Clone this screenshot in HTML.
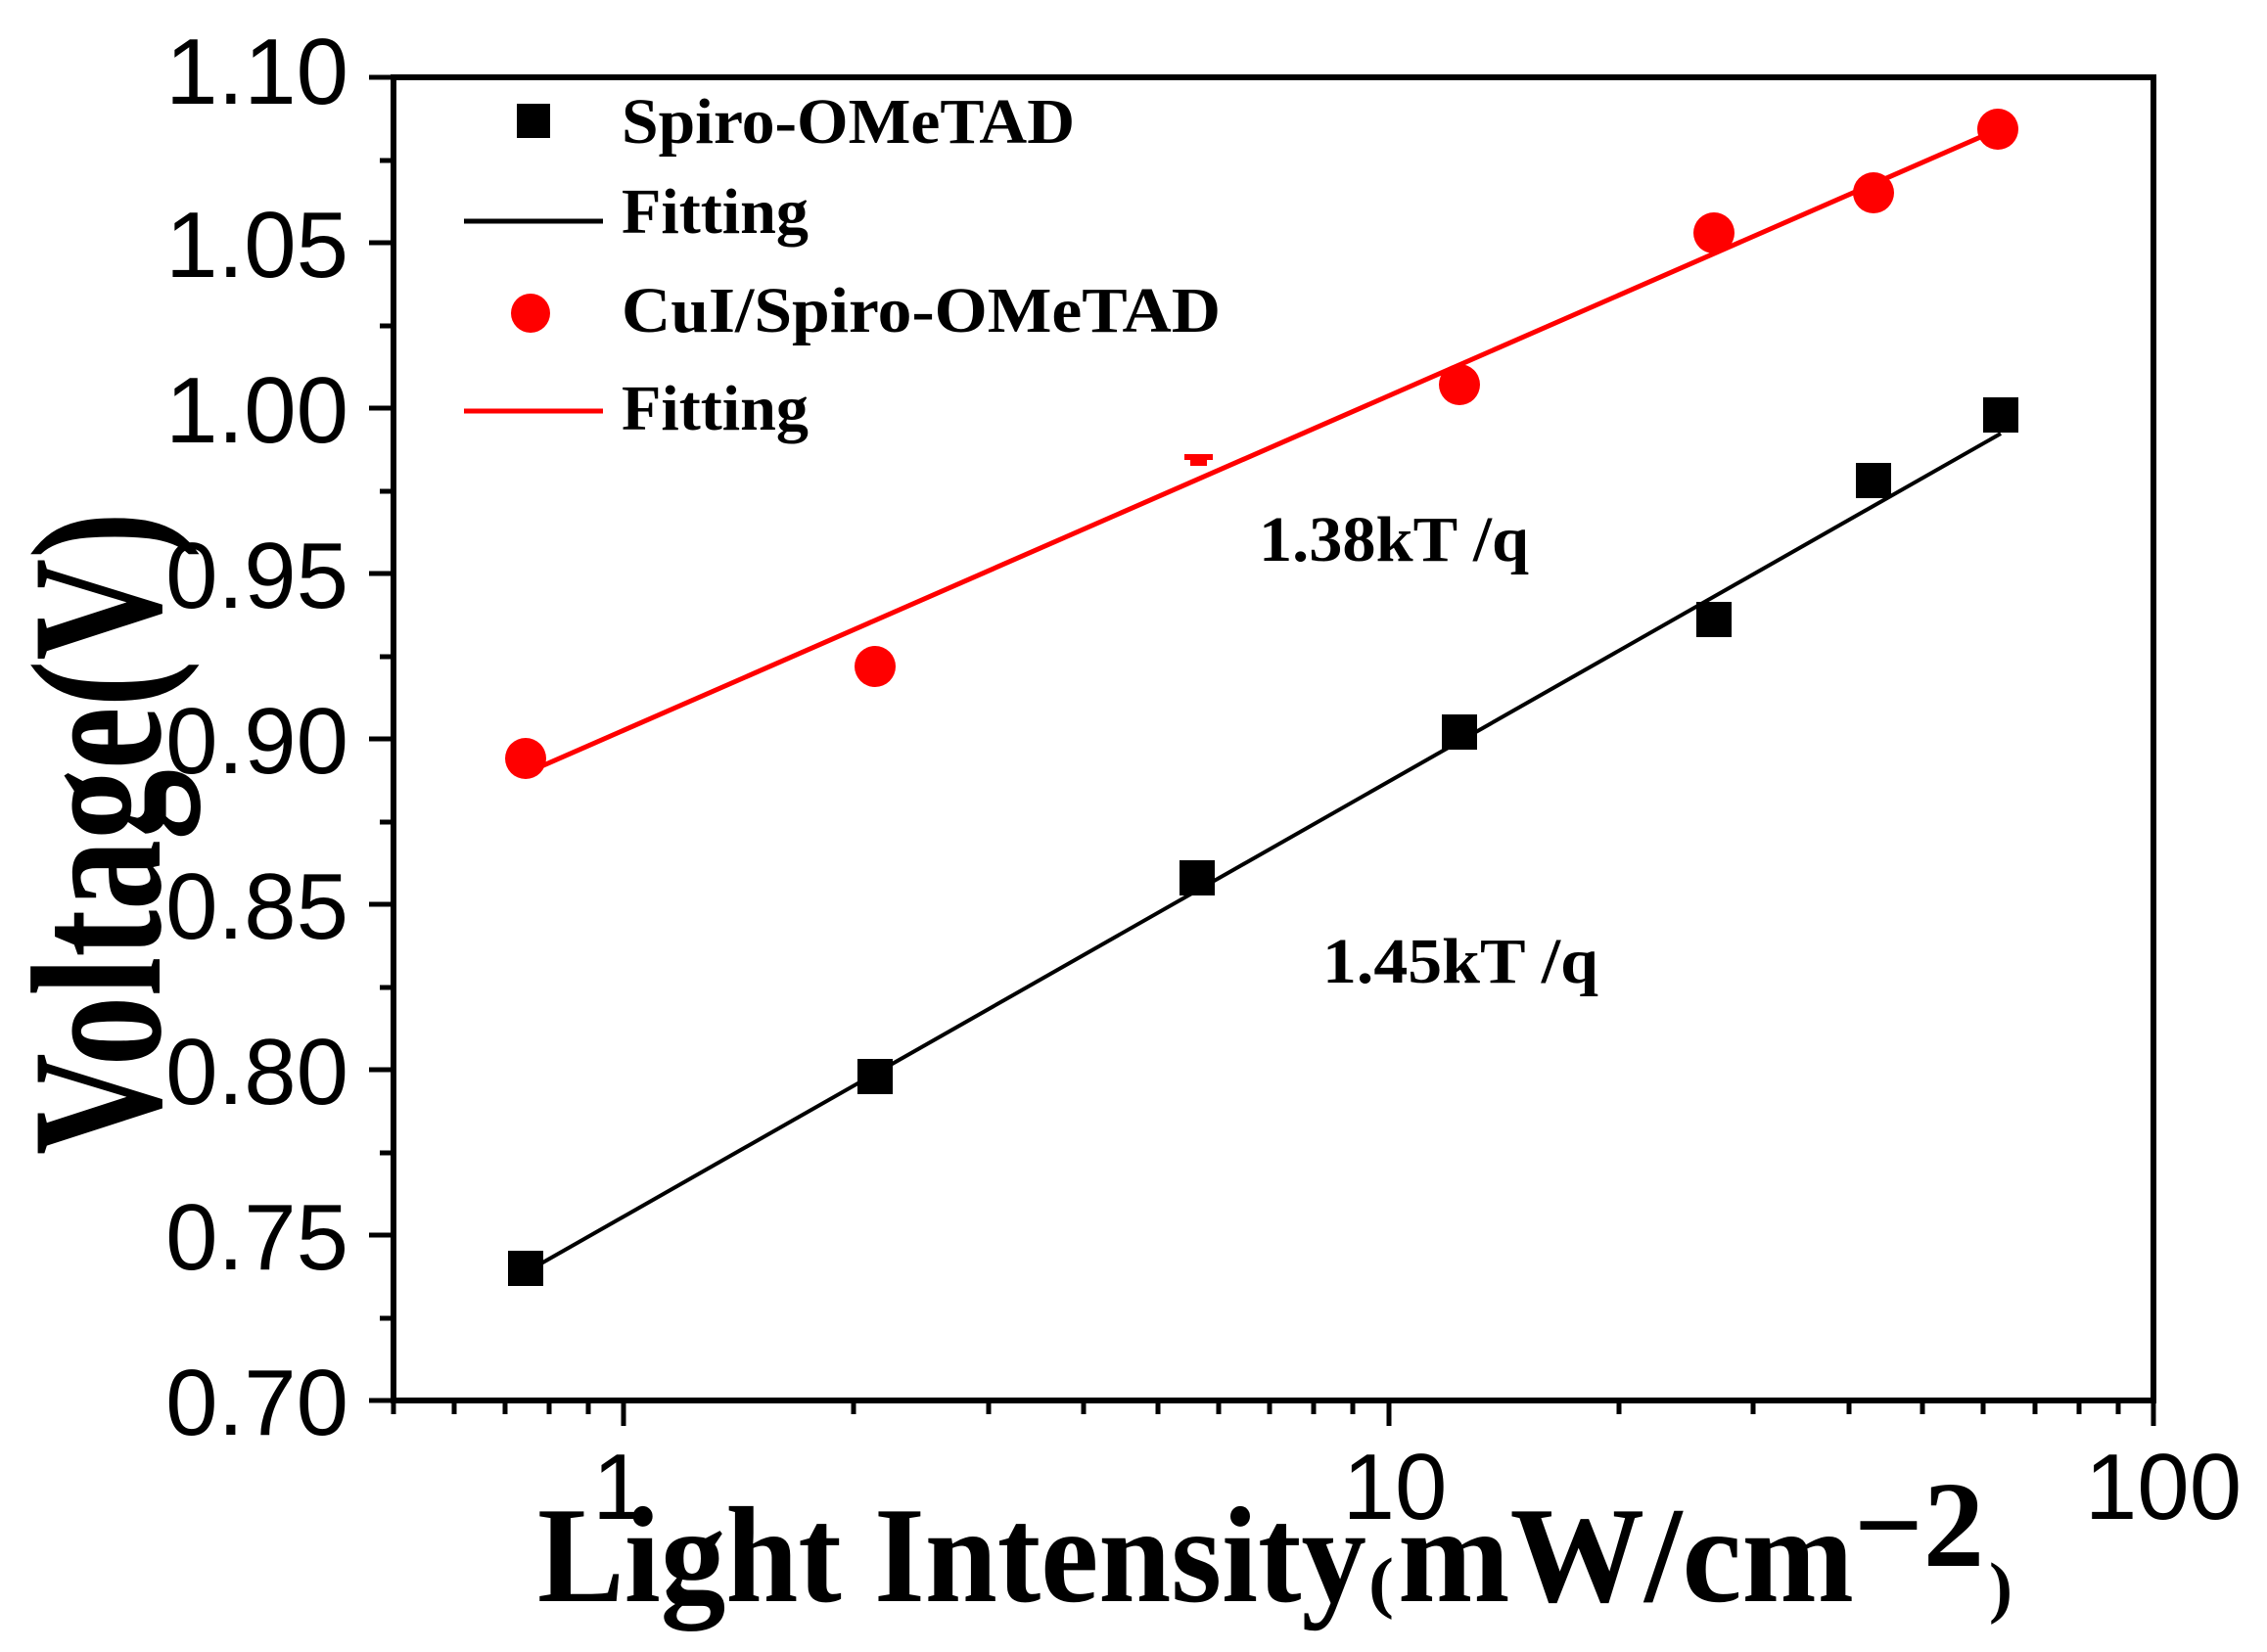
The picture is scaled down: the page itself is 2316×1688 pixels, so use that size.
<!DOCTYPE html>
<html><head><meta charset="utf-8"><style>
html,body{margin:0;padding:0;background:#fff;}
svg{display:block;}
</style></head><body>
<svg width="2316" height="1688" viewBox="0 0 2316 1688" xmlns="http://www.w3.org/2000/svg">
<rect width="2316" height="1688" fill="#fff"/>
<!-- axes frame -->
<g stroke="#000" stroke-width="6" fill="none">
<rect x="402" y="79" width="1798" height="1352"/>
</g>
<!-- y ticks -->
<g stroke="#000" stroke-width="5">
<line x1="377" y1="79" x2="402" y2="79"/>
<line x1="388" y1="164" x2="402" y2="164"/>
<line x1="377" y1="248" x2="402" y2="248"/>
<line x1="388" y1="333" x2="402" y2="333"/>
<line x1="377" y1="417" x2="402" y2="417"/>
<line x1="388" y1="502" x2="402" y2="502"/>
<line x1="377" y1="586" x2="402" y2="586"/>
<line x1="388" y1="671" x2="402" y2="671"/>
<line x1="377" y1="755" x2="402" y2="755"/>
<line x1="388" y1="840" x2="402" y2="840"/>
<line x1="377" y1="924" x2="402" y2="924"/>
<line x1="388" y1="1009" x2="402" y2="1009"/>
<line x1="377" y1="1093" x2="402" y2="1093"/>
<line x1="388" y1="1178" x2="402" y2="1178"/>
<line x1="377" y1="1262" x2="402" y2="1262"/>
<line x1="388" y1="1347" x2="402" y2="1347"/>
<line x1="377" y1="1431" x2="402" y2="1431"/>
</g>
<!-- x ticks -->
<g stroke="#000" stroke-width="5">
<line x1="402" y1="1431" x2="402" y2="1445"/>
<line x1="464" y1="1431" x2="464" y2="1445"/>
<line x1="516" y1="1431" x2="516" y2="1445"/>
<line x1="561" y1="1431" x2="561" y2="1445"/>
<line x1="601" y1="1431" x2="601" y2="1445"/>
<line x1="637" y1="1431" x2="637" y2="1457"/>
<line x1="872" y1="1431" x2="872" y2="1445"/>
<line x1="1010" y1="1431" x2="1010" y2="1445"/>
<line x1="1107" y1="1431" x2="1107" y2="1445"/>
<line x1="1183" y1="1431" x2="1183" y2="1445"/>
<line x1="1245" y1="1431" x2="1245" y2="1445"/>
<line x1="1297" y1="1431" x2="1297" y2="1445"/>
<line x1="1342" y1="1431" x2="1342" y2="1445"/>
<line x1="1382" y1="1431" x2="1382" y2="1445"/>
<line x1="1419" y1="1431" x2="1419" y2="1457"/>
<line x1="1654" y1="1431" x2="1654" y2="1445"/>
<line x1="1791" y1="1431" x2="1791" y2="1445"/>
<line x1="1889" y1="1431" x2="1889" y2="1445"/>
<line x1="1964" y1="1431" x2="1964" y2="1445"/>
<line x1="2026" y1="1431" x2="2026" y2="1445"/>
<line x1="2079" y1="1431" x2="2079" y2="1445"/>
<line x1="2124" y1="1431" x2="2124" y2="1445"/>
<line x1="2164" y1="1431" x2="2164" y2="1445"/>
<line x1="2200" y1="1431" x2="2200" y2="1457"/>
</g>
<!-- y tick labels -->
<g font-family="Liberation Sans, sans-serif" font-size="96" text-anchor="end" fill="#000">
<text x="356" y="106">1.10</text>
<text x="356" y="283">1.05</text>
<text x="356" y="452">1.00</text>
<text x="356" y="621">0.95</text>
<text x="356" y="790">0.90</text>
<text x="356" y="959">0.85</text>
<text x="356" y="1128">0.80</text>
<text x="356" y="1297">0.75</text>
<text x="356" y="1466">0.70</text>
</g>
<!-- x tick labels -->
<g font-family="Liberation Sans, sans-serif" font-size="96" text-anchor="middle" fill="#000">
<text x="632" y="1552">1</text>
<text x="1425" y="1552">10</text>
<text x="2210" y="1552">100</text>
</g>
<!-- axis titles -->
<g font-family="Liberation Serif, serif" font-weight="bold" fill="#000">
<text x="549" y="1636" font-size="140" textLength="847" lengthAdjust="spacingAndGlyphs">Light Intensity</text>
<text x="1398" y="1640" font-size="70" textLength="26" lengthAdjust="spacingAndGlyphs">(</text>
<text x="1428" y="1636" font-size="140" textLength="466" lengthAdjust="spacingAndGlyphs">mW/cm</text>
<text x="1894" y="1600" font-size="125" textLength="133" lengthAdjust="spacingAndGlyphs">−2</text>
<text x="2032" y="1645" font-size="70" textLength="24" lengthAdjust="spacingAndGlyphs">)</text>
<text transform="translate(163,1180) rotate(-90)" font-size="190" textLength="657" lengthAdjust="spacingAndGlyphs">Voltage(V)</text>
</g>
<!-- fit lines -->
<line x1="537" y1="1300" x2="2044" y2="443" stroke="#000" stroke-width="4"/>
<line x1="537" y1="790" x2="2044" y2="131" stroke="#f00" stroke-width="5"/>
<!-- black squares -->
<g fill="#000">
<rect x="519" y="1278" width="36" height="36"/>
<rect x="876" y="1082" width="36" height="36"/>
<rect x="1205" y="879" width="36" height="36"/>
<rect x="1473" y="730" width="36" height="36"/>
<rect x="1733" y="615" width="36" height="36"/>
<rect x="1896" y="473" width="36" height="36"/>
<rect x="2026" y="406" width="36" height="36"/>
</g>
<!-- red circles -->
<g fill="#f00">
<circle cx="537" cy="775" r="21"/>
<circle cx="894" cy="681" r="21"/>
<rect x="1210" y="464" width="29" height="6"/>
<rect x="1216" y="470" width="17" height="6"/>
<circle cx="1491" cy="393" r="21"/>
<circle cx="1751" cy="238" r="21"/>
<circle cx="1914" cy="197" r="21"/>
<circle cx="2041" cy="132" r="21"/>
</g>
<!-- legend -->
<rect x="528" y="106" width="34" height="35" fill="#000"/>
<line x1="474" y1="226" x2="616" y2="226" stroke="#000" stroke-width="5"/>
<circle cx="542" cy="320" r="20" fill="#f00"/>
<line x1="474" y1="420" x2="616" y2="420" stroke="#f00" stroke-width="5"/>
<g font-family="Liberation Serif, serif" font-weight="bold" font-size="66" fill="#000">
<text x="635" y="146" textLength="463" lengthAdjust="spacingAndGlyphs">Spiro-OMeTAD</text>
<text x="635" y="238" textLength="191" lengthAdjust="spacingAndGlyphs">Fitting</text>
<text x="635" y="339" textLength="612" lengthAdjust="spacingAndGlyphs">CuI/Spiro-OMeTAD</text>
<text x="635" y="439" textLength="191" lengthAdjust="spacingAndGlyphs">Fitting</text>
<text x="1286" y="573" textLength="276" lengthAdjust="spacingAndGlyphs">1.38kT /q</text>
<text x="1351" y="1004" textLength="282" lengthAdjust="spacingAndGlyphs">1.45kT /q</text>
</g>
</svg>
</body></html>
